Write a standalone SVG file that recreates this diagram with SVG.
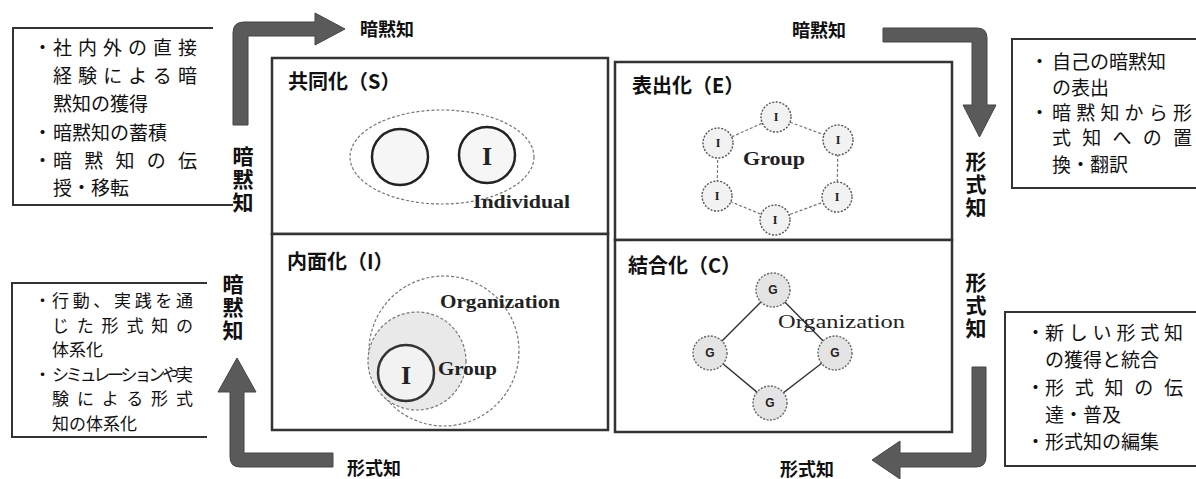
<svg xmlns="http://www.w3.org/2000/svg" width="1196" height="479" viewBox="0 0 1196 479">
<defs>
<style>
.jp{font-family:"Noto Sans CJK JP","Noto Sans CJK SC",sans-serif;fill:#111;}
.box{font-size:19px;}
.box2{font-size:17px;}
.vlab{font-size:21px;font-weight:bold;writing-mode:vertical-rl;letter-spacing:2px;}
.hlab{font-size:18px;font-weight:bold;}
.title{font-size:20px;font-weight:bold;}
.en{font-family:"Liberation Serif",serif;font-weight:bold;fill:#222;}
.quad{fill:#fff;stroke:#333;stroke-width:2.5;}
.frame{fill:none;stroke:#333;stroke-width:2;}
.arrow{fill:#5a5a5a;stroke:#444;stroke-width:1;}
.dot{stroke:#777;stroke-width:1.2;stroke-dasharray:3,2;}
</style>
</defs>
<rect width="1196" height="479" fill="#fff"/>

<g id="connectors">
<path class="arrow" d="M233,125 V33 Q233,22 244,22 H315 V13 L345,29 L315,45 V36 H248 V125 Z"/>
<path class="arrow" d="M883,28 H977 Q987,28 987,38 V105 H996 L979.5,137 L963,105 H972 V42 H883 Z"/>
<path class="arrow" d="M972,367 H986 V457 Q986,467 976,467 H900 V479 L872,460 L900,441 V453 H972 Z"/>
<path class="arrow" d="M333,453 H244 V392 H256 L237,358 L218,392 H230 V457 Q230,467 240,467 H333 Z"/>
</g>

<g id="label-tacit-top-left"><text class="jp hlab" x="360" y="36">暗黙知</text></g>
<g id="label-tacit-top-right"><text class="jp hlab" x="792" y="37">暗黙知</text></g>
<g id="label-explicit-bottom-left"><text class="jp hlab" x="347" y="475">形式知</text></g>
<g id="label-explicit-bottom-right"><text class="jp hlab" x="780" y="476">形式知</text></g>
<g id="label-tacit-left-1"><text class="jp vlab" x="243" y="146">暗黙知</text></g>
<g id="label-tacit-left-2"><text class="jp vlab" x="233" y="274">暗黙知</text></g>
<g id="label-explicit-right-1"><text class="jp vlab" x="976" y="151">形式知</text></g>
<g id="label-explicit-right-2"><text class="jp vlab" x="976" y="272">形式知</text></g>

<g id="note-top-left">
<path class="frame" d="M213,28 H13 V205 H233"/>
<g class="jp box">
<text x="33" y="55">・</text>
<text x="53" y="55" textLength="144" lengthAdjust="spacing">社内外の直接</text>
<text x="53" y="83" textLength="144" lengthAdjust="spacing">経験による暗</text>
<text x="53" y="111">黙知の獲得</text>
<text x="33" y="140">・</text>
<text x="53" y="140">暗黙知の蓄積</text>
<text x="33" y="168">・</text>
<text x="53" y="168" textLength="144" lengthAdjust="spacing">暗黙知の伝</text>
<text x="53" y="195">授・移転</text>
</g>
</g>

<g id="note-top-right">
<path class="frame" d="M1196,39 H1012 V188 H1196"/>
<g class="jp box">
<text x="1030" y="69">・</text>
<text x="1052" y="69">自己の暗黙知</text>
<text x="1052" y="95">の表出</text>
<text x="1030" y="120">・</text>
<text x="1052" y="120" textLength="140" lengthAdjust="spacing">暗黙知から形</text>
<text x="1052" y="145" textLength="140" lengthAdjust="spacing">式知への置</text>
<text x="1052" y="172">換・翻訳</text>
</g>
</g>

<g id="note-bottom-left">
<path class="frame" d="M207,283 H12 V437 H207"/>
<g class="jp box2">
<text x="34" y="307">・</text>
<text x="52" y="307" textLength="141" lengthAdjust="spacing">行動、実践を通</text>
<text x="52" y="331.5" textLength="141" lengthAdjust="spacing">じた形式知の</text>
<text x="52" y="356">体系化</text>
<text x="34" y="380.5">・</text>
<text x="52" y="380.5" textLength="141" lengthAdjust="spacing">シミュレーションや実</text>
<text x="52" y="405" textLength="141" lengthAdjust="spacing">験による形式</text>
<text x="52" y="429.5">知の体系化</text>
</g>
</g>

<g id="note-bottom-right">
<path class="frame" d="M1196,312 H1005 V466 H1196"/>
<g class="jp box">
<text x="1026" y="340">・</text>
<text x="1045" y="340" textLength="138" lengthAdjust="spacing">新しい形式知</text>
<text x="1045" y="367">の獲得と統合</text>
<text x="1026" y="395">・</text>
<text x="1045" y="395" textLength="138" lengthAdjust="spacing">形式知の伝</text>
<text x="1045" y="422">達・普及</text>
<text x="1026" y="449">・</text>
<text x="1045" y="449">形式知の編集</text>
</g>
</g>

<g id="quad-socialization">
<rect class="quad" x="272" y="58" width="336" height="176"/>
<text class="jp title" x="288" y="89">共同化（S）</text>
<ellipse cx="442" cy="157" rx="92" ry="47" fill="none" class="dot"/>
<circle cx="400" cy="157" r="28" fill="#f6f6f6" stroke="#222" stroke-width="2.5"/>
<circle cx="487" cy="155" r="28" fill="#f6f6f6" stroke="#222" stroke-width="2.5"/>
<text class="en" x="487" y="165" font-size="26" font-weight="normal" text-anchor="middle">I</text>
<text class="en" x="473" y="208" font-size="18" textLength="97" lengthAdjust="spacingAndGlyphs">Individual</text>
</g>

<g id="quad-externalization">
<rect class="quad" x="615" y="62" width="337" height="178"/>
<text class="jp title" x="632" y="93">表出化（E）</text>
<path class="dot" fill="none" d="M776,117 L838,140 L837,197 L775,220 L717,196 L718,143 Z"/>
<g fill="#f2f2f2" stroke="#555" stroke-width="1.4" stroke-dasharray="2,1.5">
<circle cx="776" cy="117" r="15"/><circle cx="838" cy="140" r="15"/><circle cx="837" cy="197" r="15"/>
<circle cx="775" cy="220" r="15"/><circle cx="717" cy="196" r="15"/><circle cx="718" cy="143" r="15"/>
</g>
<g class="en" font-size="12" text-anchor="middle">
<text x="776" y="121">I</text><text x="838" y="144">I</text><text x="837" y="201">I</text>
<text x="775" y="224">I</text><text x="717" y="200">I</text><text x="718" y="147">I</text>
</g>
<text class="en" x="743" y="165" font-size="18" textLength="62" lengthAdjust="spacingAndGlyphs">Group</text>
</g>

<g id="quad-internalization">
<rect class="quad" x="272" y="234" width="336" height="196"/>
<text class="jp title" x="287" y="269">内面化（I）</text>
<circle cx="444" cy="351" r="75" fill="#fff" class="dot"/>
<circle cx="417" cy="361" r="49" fill="#e9e9e9" class="dot"/>
<circle cx="406" cy="373" r="28" fill="#f2f2f2" stroke="#333" stroke-width="2.5"/>
<text class="en" x="406" y="384" font-size="26" font-weight="normal" text-anchor="middle">I</text>
<text class="en" x="440" y="308" font-size="18" textLength="120" lengthAdjust="spacingAndGlyphs">Organization</text>
<text class="en" x="438" y="375" font-size="18" textLength="59" lengthAdjust="spacingAndGlyphs">Group</text>
</g>

<g id="quad-combination">
<rect class="quad" x="615" y="240" width="337" height="192"/>
<text class="jp title" x="628" y="273">結合化（C）</text>
<path d="M773,290 L835,353 L770,403 L710,353 Z" fill="none" stroke="#333" stroke-width="1.4"/>
<g fill="#e4e4e4" stroke="#666" stroke-width="1.4" stroke-dasharray="2,1.5">
<circle cx="773" cy="290" r="17"/><circle cx="835" cy="353" r="17"/>
<circle cx="770" cy="403" r="17"/><circle cx="710" cy="353" r="17"/>
</g>
<g font-family="Liberation Sans, sans-serif" font-weight="bold" font-size="12" fill="#222" text-anchor="middle">
<text x="773" y="294">G</text><text x="835" y="357">G</text><text x="770" y="407">G</text><text x="710" y="357">G</text>
</g>
<text x="778" y="328" font-family="Liberation Serif, serif" font-size="18" fill="#222" textLength="127" lengthAdjust="spacingAndGlyphs">Organization</text>
</g>
</svg>
